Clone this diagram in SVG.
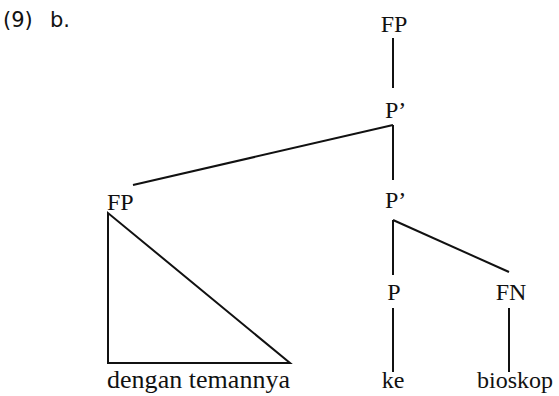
<svg xmlns="http://www.w3.org/2000/svg" width="559" height="396" viewBox="0 0 559 396">
<style>
.t{font-family:"Liberation Serif","Times New Roman",serif;font-size:24px;fill:#111}
.s{font-family:"DejaVu Sans","Verdana",sans-serif;font-size:21px;fill:#111}
.e{stroke:#111;stroke-width:2;fill:none}
</style>
<rect width="559" height="396" fill="#fff"/>
<text class="s" x="3" y="27">(9)</text>
<text class="s" x="50" y="27">b.</text>
<g id="connectors">
<line class="e" x1="393" y1="38" x2="393" y2="88"/>
<line class="e" x1="393" y1="125" x2="133" y2="185"/>
<line class="e" x1="393" y1="125" x2="393" y2="180"/>
<line class="e" x1="393" y1="220" x2="393" y2="275"/>
<line class="e" x1="393" y1="220" x2="509" y2="272"/>
<line class="e" x1="393" y1="308" x2="393" y2="372"/>
<line class="e" x1="509" y1="308" x2="509" y2="372"/>
<polygon class="e" points="108,213 108,363 290,363"/>
</g>
<g id="fp-top"><text class="t" x="394" y="32" text-anchor="middle">FP</text></g>
<g id="p1"><text class="t" x="385" y="118">P’</text></g>
<g id="fp-left"><text class="t" x="107" y="210">FP</text></g>
<g id="p2"><text class="t" x="385" y="208">P’</text></g>
<g id="p"><text class="t" x="394" y="300" text-anchor="middle">P</text></g>
<g id="fn"><text class="t" x="511" y="300" text-anchor="middle">FN</text></g>
<g id="dengan"><text class="t" x="107" y="388" style="font-size:26px" textLength="183">dengan temannya</text></g>
<g id="ke"><text class="t" x="393" y="388" text-anchor="middle">ke</text></g>
<g id="bioskop"><text class="t" x="477" y="388">bioskop</text></g>
</svg>
